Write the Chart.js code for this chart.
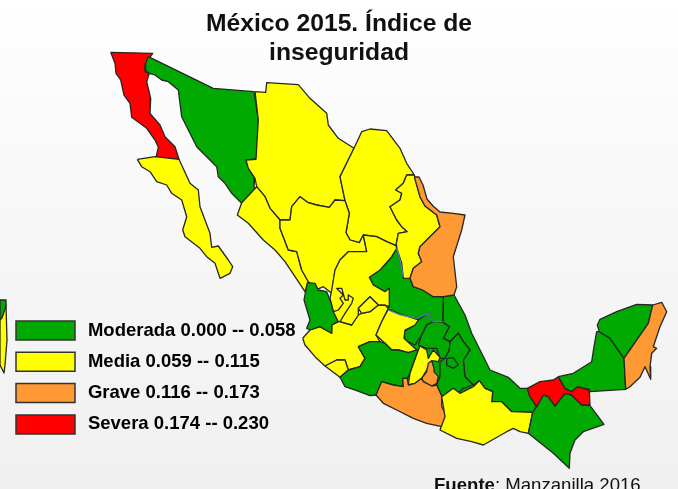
<!DOCTYPE html>
<html>
<head>
<meta charset="utf-8">
<title>México 2015</title>
<script src="https://cdn.jsdelivr.net/npm/chart.js@4/dist/chart.umd.js"></script>
<style>
  html, body { margin: 0; padding: 0; overflow: hidden; }
  body { width: 678px; height: 489px; position: relative; background: linear-gradient(#ffffff 0%, #fafafa 25%, #f0f0f0 100%); }
  #source { position: absolute; left: 434px; top: 474px; font: 18.6px "Liberation Sans", Arial, sans-serif; color: #111; white-space: nowrap; }
</style>
</head>
<body>
<canvas id="mapChart" width="678" height="489"></canvas>
<div id="source"><b>Fuente</b>: Manzanilla 2016</div>
<script>
// legend classes
const levelLabels = ['\u2009Moderada 0.000 -- 0.058', '\u2009Media 0.059 -- 0.115', '\u2009Grave 0.116 -- 0.173', '\u2009Severa 0.174 -- 0.230'];
const levelColors = ['#00aa00', '#ffff00', '#ff9933', '#ff0000'];

// state outlines (map units = source image pixels)
const bajaCalifornia = [[110.7,52.3],[152.7,53.3],[145.7,63.3],[145,71.7],[149.3,73.3],[146.7,81.7],[150.7,98.3],[150,113.3],[160,125],[165,136.7],[175,146.7],[179,159.3],[156,157.3],[158.3,147.3],[155,140],[146.7,128.3],[131.7,117.3],[130,103.3],[124,95],[120.7,80],[116,73.3],[115,63.3]];
const bajaSur = [[137.3,159.3],[155,156.7],[179,159.3],[190,183.3],[198.3,190],[200,206.7],[205,220],[210,233.3],[211.7,247.3],[218.3,246],[228.3,260],[232.7,266.7],[230,273.3],[220,278.3],[215,263.3],[206.7,256.7],[200,248.3],[185,236.7],[182.7,230],[186.7,216.7],[181.7,200],[171.7,193.3],[166.7,185],[156.7,181.7],[150,171.7],[141.7,166.7]];
const sonora = [[148.3,56.7],[213.3,88.3],[254,91.7],[258.3,120],[256.7,158.3],[246.7,160.7],[255,175],[254,186.7],[256.7,191.7],[241.7,203.3],[231.7,193.3],[225,183.3],[218.3,176.7],[216.7,166.7],[206.7,156.7],[196.7,146.7],[188.3,130],[181.7,116.7],[178.3,90],[168.3,81.7],[161.7,80],[155,75],[149.3,73.3],[145,70],[145.7,63.3]];
const chihuahua = [[255,91.7],[265.7,92.3],[266.7,82.7],[298.3,84.7],[310,98.3],[326.7,113.3],[328.3,125],[338.3,138.3],[354,148.3],[340,176.7],[345,200.7],[335,200],[329.3,207.3],[316.7,205],[308.3,202.7],[300,196.7],[291.7,206.7],[290,220],[280,220],[270,208.3],[265,196.7],[256.7,186.7],[255,178.3],[248.3,168.3],[246,160],[256,159.3],[258.3,120]];
const coahuila = [[354,148.3],[361.7,131.7],[370,129],[386.7,130.7],[400,148.3],[406.7,163.3],[414.3,175],[406.7,175],[403.3,183.3],[395.7,190],[401.7,193.3],[400,200],[390,206.7],[396.7,220],[401.7,226.7],[407.3,231.7],[398.3,233.3],[396,245.7],[386.7,241.7],[376.7,236.7],[363.3,235],[359.3,242.7],[350,240],[346,232.7],[349.3,213.3],[345,200.7],[340,176.7]];
const nuevoLeon = [[406.7,175],[414.3,175],[420,196.7],[425,206],[436.7,215],[440,226.7],[420,246.7],[418.3,253.3],[421.7,261.7],[413.3,268.3],[410,278.3],[403.3,278.3],[401.7,263.3],[396.7,248.3],[396,245.7],[398.3,233.3],[407.3,231.7],[401.7,226.7],[396.7,220],[390,206.7],[400,200],[401.7,193.3],[395.7,190],[403.3,183.3]];
const tamaulipas = [[414.3,177],[419,177],[423,185],[427,199],[433,206],[440,212],[453.3,213.3],[465,215],[461.7,230],[453.3,256.7],[456.7,286.7],[454,295],[443.3,296.7],[433.3,296.7],[422.7,290],[413.3,286.7],[410,278.3],[413.3,268.3],[421.7,261.7],[418.3,253.3],[420,246.7],[440,226.7],[436.7,215],[425,206],[420,196.7]];
const sinaloa = [[256.7,186.7],[265,196.7],[270,208.3],[280,220],[280,228.3],[288.3,250],[296.7,251.7],[301.7,270],[308.3,281.7],[305,291.7],[295,276.7],[285,261.7],[275,250],[263.3,240],[248.3,223.3],[237.3,215],[241.7,202.7]];
const durango = [[280,220],[290,220],[291.7,206.7],[300,196.7],[308.3,202.7],[316.7,205],[329.3,207.3],[335,200],[345,200.7],[349.3,213.3],[346,232.7],[350,240],[359.3,242.7],[363.3,235],[366.7,251.7],[348.3,251.7],[340,260],[335,270],[331.7,293.3],[323.3,286.7],[317.3,289.3],[308.3,281.7],[301.7,270],[296.7,251.7],[288.3,250],[280,228.3]];
const zacatecas = [[363.3,235],[376.7,236.7],[386.7,241.7],[396,245.7],[396.7,248.3],[391.7,256.7],[380,270],[369.3,277.3],[373.3,285],[385,291.7],[389.3,288.3],[389.3,306.7],[385,305],[378.3,305],[370,296.7],[358.3,308.3],[358.3,315],[351.7,325],[340,321.7],[345,313.3],[351.7,303.3],[353.3,298.3],[348.3,295],[348.3,300],[345,300],[341.7,288.3],[336.7,288.3],[343.3,295],[340,298.3],[343.3,303.3],[338.3,310],[333.3,311.7],[330,298.3],[331.7,290],[335,270],[340,260],[348.3,251.7],[366.7,251.7]];
const nayarit = [[307.3,282.7],[315,283.3],[318.3,290],[326.7,291.7],[330.7,301.7],[333.3,311.7],[338.3,321.7],[331.7,325],[331.7,333.3],[320,326.7],[310,330],[306.7,328.3],[310,320],[304,300]];
const jalisco = [[302.7,338.3],[310,330],[320,326.7],[331.7,333.3],[331.7,325],[338.3,321.7],[340,321.7],[351.7,325],[358.3,315],[361.7,313.3],[370,311.7],[378.3,305],[385,305],[388.3,308.3],[381.7,321.7],[376,335],[380,341.7],[370,341.7],[358.3,346.7],[365,358.3],[360,366.7],[348.3,370],[345,360],[336.7,360],[325,366],[315,356.7],[305,345]];
const colima = [[325,366],[336.7,360],[345,360],[348.3,370],[340,377.3]];
const aguascalientes = [[358.3,308.3],[370,296.7],[378.3,305],[370,311.7],[361.7,313.3]];
const guanajuato = [[388.3,309.3],[403.3,315],[418.3,320],[415,325],[405,330],[404,338.3],[416.7,350],[408.3,352.7],[398.3,350],[391.7,350],[385,343.3],[376,335],[381.7,321.7]];
const michoacan = [[358.3,346.7],[370,341.7],[380,341.7],[385,343.3],[391.7,350],[398.3,350],[408.3,352.7],[416.7,350],[418.3,350],[410,373.3],[407.3,378.3],[402.7,378.3],[403.3,386.7],[393.3,385],[381.7,381.7],[376.7,395],[370,395.7],[356.7,390.7],[345,386.7],[340,377.3],[348.3,370],[360,366.7],[365,358.3]];
const sanLuis = [[396.7,248.3],[400,260],[403.3,276.7],[410,278.3],[413.3,286.7],[422.7,290],[433.3,296.7],[443.3,296.7],[442.7,321.7],[433.3,321.7],[428.3,313.3],[416.7,318.3],[400,315],[388.3,310],[389.3,288.3],[385,291.7],[373.3,285],[369.3,277.3],[380,270],[391.7,256.7]];
const queretaro = [[418.3,320],[428.3,313.3],[433.3,321.7],[426.7,325],[421.7,335],[415,345],[405,340],[404,331.7],[415,325]];
const hidalgo = [[433.3,321.7],[442.7,322.3],[449.3,326.7],[443.3,338.3],[450,341.7],[449.3,350],[445,358.3],[440,358.3],[436.7,348.3],[426.7,348.3],[418.3,345],[421.7,335],[426.7,325]];
const puebla = [[450,341.7],[458.3,333.3],[463.3,341.7],[470,350],[463.3,360],[465,376.7],[473.3,385],[463.3,388.3],[456.7,394],[441.7,396],[436.7,385],[440,376.7],[440,361.7],[445,358.3],[449.3,350]];
const tlaxcala = [[446.7,358.3],[453.3,357.7],[458.3,365],[453.3,368.3],[446.7,365]];
const edomex = [[418.3,350],[420,346],[426.7,350],[428.3,358.3],[433.3,350],[440,357.3],[438.3,361.7],[431.7,360.7],[426.7,370],[421.7,378.3],[415,383.3],[408.3,385],[410,373.3]];
const morelos = [[421.7,378.3],[426.7,371.7],[428.3,363.3],[431.7,360.7],[434,368.3],[434,371.7],[438.3,376.7],[436.7,383.3],[431.7,386],[423.3,381.7]];
const guerrero = [[381.7,381.7],[393.3,385],[403.3,386.7],[402.7,378.3],[407.3,378.3],[408.3,385],[415,383.3],[421.7,378.3],[423.3,381.7],[431.7,386],[436.7,385],[441.7,396],[441.7,406.7],[447.3,416.7],[441.7,426.7],[426.7,423.3],[413.3,418.3],[396.7,410],[383.3,403.3],[376,395]];
const oaxaca = [[441.7,396.7],[453.3,388.3],[460,393.3],[473.3,386.7],[479.3,380.7],[485,388.3],[492.7,391.7],[491.7,401.7],[501.7,401.7],[511.7,411.7],[532.7,412.3],[528.3,433.3],[520,431.7],[513.3,428.3],[506.7,431.7],[483.3,445],[471.7,441.7],[456.7,438.3],[440,430],[445,416.7]];
const veracruz = [[443.3,296.7],[454,295],[465,315],[471.7,333.3],[481.7,353.3],[490,370],[508.3,377.3],[520,388.3],[527.3,388.3],[530,396.7],[536.7,406.7],[532.7,412.3],[511.7,411.7],[501.7,401.7],[491.7,401.7],[492.7,391.7],[485,388.3],[479.3,380.7],[473.3,385],[465,376.7],[463.3,360],[470,350],[463.3,341.7],[458.3,333.3],[450,341.7],[443.3,338.3],[449.3,326.7],[442.7,322.3]];
const tabasco = [[527.3,388.3],[540,381.7],[553.3,380],[558.3,376.7],[565,388.3],[571.7,391.7],[577.3,386.7],[589.3,390],[590,405],[581.7,405],[571.7,395],[565,393.3],[555,406],[548.3,396.7],[543.3,395],[536.7,406.7],[530,396.7]];
const chiapas = [[536.7,406.7],[543.3,395],[548.3,396.7],[555,406],[565,393.3],[571.7,395],[581.7,405],[590,405.7],[604,424.3],[583.3,431.7],[575,440],[570,453.3],[569.3,468.3],[553.3,453.3],[528.3,433.3],[532.7,412.3]];
const campeche = [[558.3,376.7],[573.3,373.3],[591.7,361.7],[594,346.7],[596.7,331.7],[599.3,331.7],[610,338.3],[624,358.3],[625.7,389.3],[590,391.7],[589.3,389.3],[577.3,386.7],[571.7,391.7],[565,388.3]];
const yucatan = [[599.3,331.7],[597.3,325],[600,319.3],[616.7,311.7],[636.7,304.3],[652.7,305],[648.3,323.3],[624,358.3],[610,338.3]];
const quintanaRoo = [[652.7,305],[661.7,302.3],[666.7,311.7],[660,326.7],[653.3,346.7],[656.7,348.3],[651.7,353.3],[650,366.7],[650.7,379.3],[645,366.7],[640,377.3],[630,386.7],[625.7,389.3],[624,358.3],[648.3,323.3]];
// bit of a second map sticking out on the left edge
const edgeYellow = [[0,312],[6,305],[7,340],[5,365],[4,373],[0,365]];
const edgeGreen = [[0,300],[6,300],[6,306],[2,318],[0,320]];
// unstroked patches under the states so no gaps show through
const patchGreen = [[400,315],[443,296],[455,296],[470,350],[480,380],[460,396],[436,392],[408,380],[405,345]];
const patchYellow = [[330,298],[345,288],[356,296],[358,315],[352,325],[338,322]];
// blue-ish borders around San Luis
const blueBorderNorth = [[396.7,248.3],[400,260],[403.3,276.7]];
const blueBorderSouth = [[388.3,310],[400,315],[416.7,318.3],[428.3,313.3],[433.3,321.7],[442.7,321.7]];

// [outline, level index]; later rows are painted on top
const states = [
  [veracruz, 0], [sanLuis, 0], [queretaro, 0], [hidalgo, 0], [puebla, 0], [tlaxcala, 0],
  [bajaCalifornia, 3], [bajaSur, 1], [sonora, 0], [chihuahua, 1], [coahuila, 1], [nuevoLeon, 1],
  [tamaulipas, 2], [sinaloa, 1], [durango, 1], [jalisco, 1], [zacatecas, 1], [nayarit, 0],
  [colima, 1], [aguascalientes, 1], [guanajuato, 1], [michoacan, 0], [edomex, 1], [morelos, 2],
  [guerrero, 2], [oaxaca, 1], [chiapas, 0], [tabasco, 3], [campeche, 0], [yucatan, 0],
  [quintanaRoo, 2], [edgeYellow, 1], [edgeGreen, 0]
];

const toPoints = pts => pts.map(p => ({ x: p[0], y: p[1] }));

const datasets = states.map(([outline, level], i) => ({
  data: toPoints(outline.concat([outline[0]])),
  backgroundColor: levelColors[level],
  borderColor: '#262626',
  borderWidth: 1.3,
  borderJoinStyle: 'round',
  fill: 'shape',
  showLine: true,
  pointRadius: 0,
  order: states.length - i + 2
}));

[[patchGreen, 0], [patchYellow, 1]].forEach(([outline, level]) => {
  datasets.push({
    data: toPoints(outline.concat([outline[0]])),
    backgroundColor: levelColors[level],
    borderWidth: 0,
    fill: 'shape',
    showLine: true,
    pointRadius: 0,
    order: states.length + 5
  });
});

[blueBorderNorth, blueBorderSouth].forEach(line => {
  datasets.push({
    data: toPoints(line),
    borderColor: '#4f7fb8',
    borderWidth: 1.3,
    fill: false,
    showLine: true,
    pointRadius: 0,
    order: 1
  });
});

// the legend sits over the map, so it gets moved after layout
const moveLegend = {
  id: 'moveLegend',
  afterLayout(chart) {
    chart.legend.left = 3.7;
    chart.legend.top = 308.7;
  }
};

new Chart(document.getElementById('mapChart'), {
  type: 'scatter',
  data: { datasets: datasets },
  plugins: [moveLegend],
  options: {
    responsive: false,
    animation: false,
    layout: { padding: 0 },
    scales: {
      x: { display: false, min: 0, max: 678 },
      y: { display: false, min: 0, max: 489, reverse: true }
    },
    plugins: {
      tooltip: { enabled: false },
      title: {
        display: true,
        text: ['México 2015. Índice de', 'inseguridad'],
        color: '#111111',
        font: { family: '"Liberation Sans", Arial, sans-serif', size: 24.7, weight: 'bold', lineHeight: 1.17 },
        padding: { top: 10, bottom: -67.8 }
      },
      legend: {
        position: 'chartArea',
        align: 'start',
        labels: {
          boxWidth: 59,
          boxHeight: 19,
          padding: 12.3,
          color: '#14296e',
          font: { family: '"Liberation Sans", Arial, sans-serif', size: 18.5, weight: 'bold' },
          generateLabels: () => levelLabels.map((text, i) => ({
            text: text,
            fillStyle: levelColors[i],
            strokeStyle: '#333333',
            lineWidth: 1.5
          }))
        }
      }
    }
  }
});
</script>
</body>
</html>
